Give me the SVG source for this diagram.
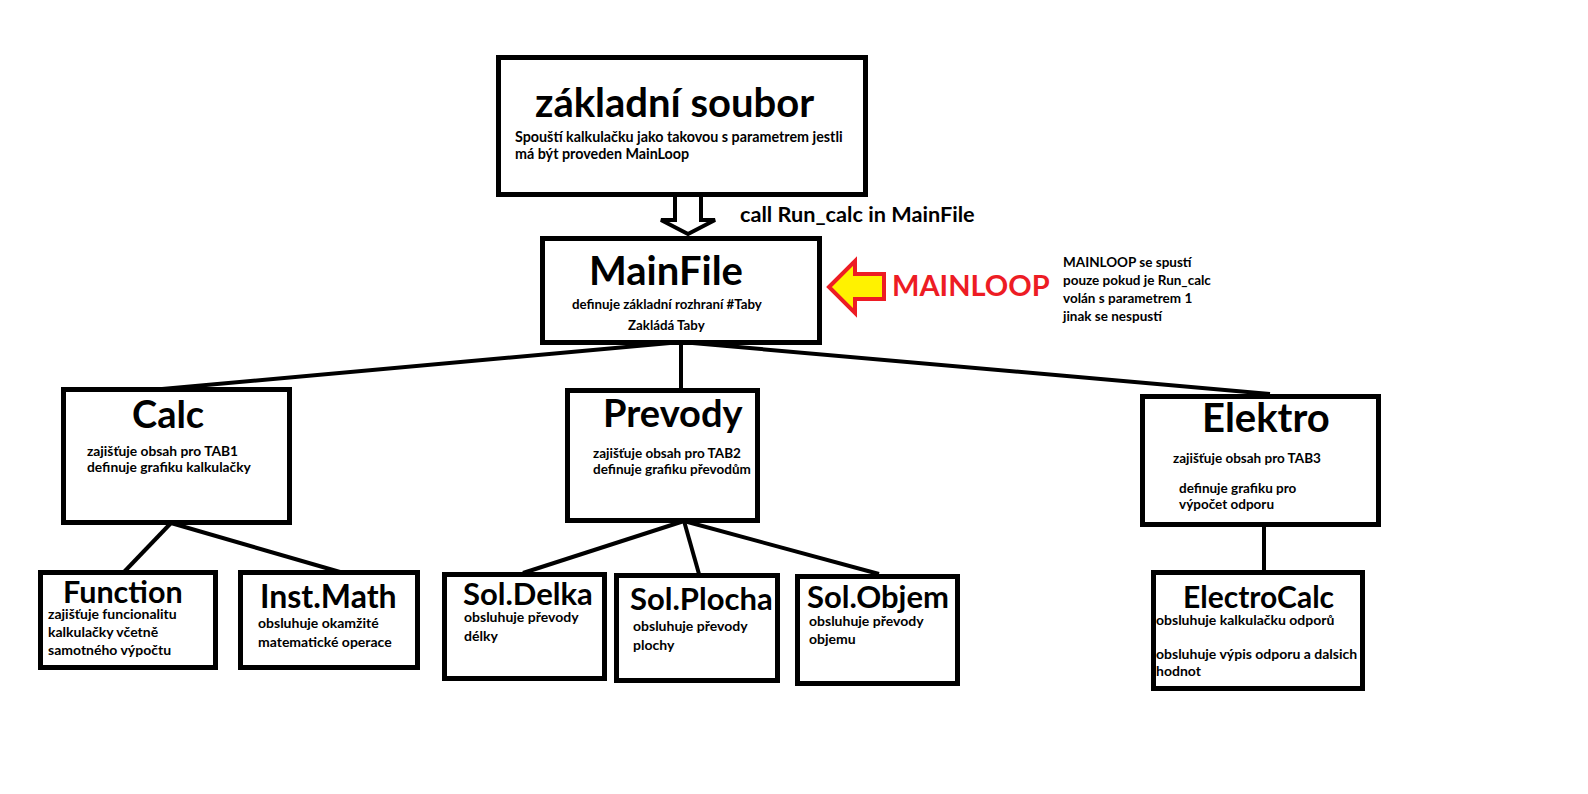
<svg xmlns="http://www.w3.org/2000/svg" width="1588" height="794" viewBox="0 0 1588 794">
<style>
.box{fill:#fff;stroke:#000;stroke-width:5}
.con line{stroke:#000;stroke-width:4}
text{font-family:Lato,"Open Sans","Liberation Sans",sans-serif;font-weight:bold;fill:#000}
.h1{font-size:40px}
.h2{font-size:38px}
.h3{font-size:31px}
.s{font-size:13.5px}
.m{font-size:14px}
.red{fill:#ED1C24;font-size:29px}
</style>
<rect width="1588" height="794" fill="#fff"/>
<g id="connectors" class="con">
<line x1="681" y1="342" x2="162" y2="389"/>
<line x1="681" y1="342" x2="681" y2="390"/>
<line x1="681" y1="342" x2="1270" y2="394"/>
<line x1="171" y1="523" x2="124" y2="572"/>
<line x1="171" y1="523" x2="340" y2="572"/>
<line x1="684" y1="521" x2="523" y2="573"/>
<line x1="684" y1="521" x2="699" y2="574"/>
<line x1="684" y1="521" x2="879" y2="574"/>
<line x1="1264" y1="525" x2="1264" y2="572"/>
<polyline points="675,196 675,220 661,220 688,234 715,220 701,220 701,196" fill="#fff" stroke="#000" stroke-width="4"/>
<polygon points="829,287 855,261 855,274 884,274 884,299 855,299 855,313" fill="#FFF200" stroke="#ED1C24" stroke-width="4"/>
</g>
<g id="zakladni">
<rect class="box" x="498.5" y="57.5" width="367" height="137"/>
<text class="h1" x="535" y="117">základní soubor</text>
<text x="515" y="141.5" font-size="14.3">Spouští kalkulačku jako takovou s parametrem jestli</text>
<text x="515" y="159" font-size="14.3">má být proveden MainLoop</text>
</g>
<text x="740" y="221.5" font-size="21.7">call Run_calc in MainFile</text>
<g id="mainfile">
<rect class="box" x="542.5" y="238.5" width="277" height="104"/>
<text class="h1" x="589" y="285">MainFile</text>
<text x="572" y="309" font-size="13.3">definuje základní rozhraní #Taby</text>
<text x="628" y="330" font-size="13.3">Zakládá Taby</text>
</g>
<g id="mainloop">
<text class="red" x="892" y="295.5">MAINLOOP</text>
<text class="s" x="1063" y="267">MAINLOOP se spustí</text>
<text class="s" x="1063" y="285">pouze pokud je Run_calc</text>
<text class="s" x="1063" y="303">volán s parametrem 1</text>
<text class="s" x="1063" y="321">jinak se nespustí</text>
</g>
<g id="calc">
<rect class="box" x="63.5" y="389.5" width="226" height="133"/>
<text class="h2" x="132" y="428">Calc</text>
<text x="87" y="456" font-size="13.8">zajišťuje obsah pro TAB1</text>
<text x="87" y="472" font-size="13.8">definuje grafiku kalkulačky</text>
</g>
<g id="prevody">
<rect class="box" x="567.5" y="390.5" width="190" height="130"/>
<text class="h2" x="603" y="427" font-size="39">Prevody</text>
<text class="s" x="593" y="458">zajišťuje obsah pro TAB2</text>
<text class="s" x="593" y="474">definuje grafiku převodům</text>
</g>
<g id="elektro">
<rect class="box" x="1142.5" y="396.5" width="236" height="128"/>
<text x="1202" y="432" font-size="40">Elektro</text>
<text class="s" x="1173" y="463">zajišťuje obsah pro TAB3</text>
<text class="s" x="1179" y="493">definuje grafiku pro</text>
<text class="s" x="1179" y="509">výpočet odporu</text>
</g>
<g id="function">
<rect class="box" x="40.5" y="572.5" width="175" height="95"/>
<text x="63" y="603" font-size="30.5">Function</text>
<text class="m" x="48" y="619">zajišťuje funcionalitu</text>
<text class="m" x="48" y="637">kalkulačky včetně</text>
<text class="m" x="48" y="655">samotného výpočtu</text>
</g>
<g id="instmath">
<rect class="box" x="240.5" y="572.5" width="177" height="95"/>
<text x="260" y="608" font-size="32">Inst.Math</text>
<text class="m" x="258" y="628">obsluhuje okamžité</text>
<text class="m" x="258" y="646.5">matematické operace</text>
</g>
<g id="soldelka">
<rect class="box" x="444.5" y="574.5" width="160" height="104"/>
<text class="h3" x="463" y="605">Sol.Delka</text>
<text class="m" x="464" y="622">obsluhuje převody</text>
<text class="m" x="464" y="641">délky</text>
</g>
<g id="solplocha">
<rect class="box" x="616.5" y="575.5" width="161" height="105"/>
<text class="h3" x="630" y="610">Sol.Plocha</text>
<text class="m" x="633" y="631">obsluhuje převody</text>
<text class="m" x="633" y="650">plochy</text>
</g>
<g id="solobjem">
<rect class="box" x="797.5" y="576.5" width="160" height="107"/>
<text class="h3" x="807" y="608">Sol.Objem</text>
<text class="m" x="809" y="625.5">obsluhuje převody</text>
<text class="m" x="809" y="644">objemu</text>
</g>
<g id="electrocalc">
<rect class="box" x="1153.5" y="572.5" width="209" height="116"/>
<text x="1183" y="608" font-size="30">ElectroCalc</text>
<text class="m" x="1156" y="625">obsluhuje kalkulačku odporů</text>
<text class="m" x="1156" y="659">obsluhuje výpis odporu a dalsich</text>
<text class="m" x="1156" y="675.5">hodnot</text>
</g>
</svg>
